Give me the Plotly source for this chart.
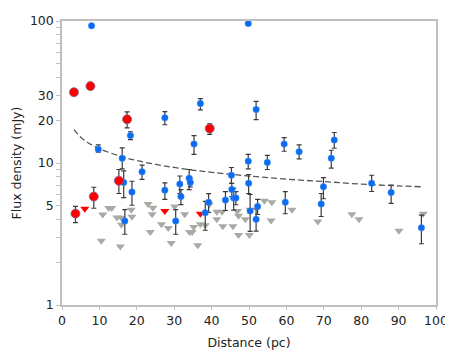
import plotly.graph_objects as go

# Blue detections: distance (pc), flux (mJy), error up / down
blue_d = [7.9, 49.8, 9.7, 18.3, 16.1, 21.4, 27.5, 37.0, 35.3, 51.9, 59.4, 63.4, 49.8, 54.9,
          45.3, 72.8, 72.0, 82.8, 88.0, 96.1, 69.9, 69.3, 16.5, 18.7, 16.8, 27.5, 31.5, 31.8,
          30.4, 34.0, 34.3, 45.4, 45.9, 46.5, 49.9, 50.3, 43.7, 39.2, 38.3, 52.3, 51.9, 59.7]
blue_f = [92.5, 96, 12.5, 15.6, 10.8, 8.66, 20.8, 26.2, 13.6, 23.8, 13.6, 12.0, 10.3, 10.1,
          8.2, 14.5, 10.8, 7.2, 6.2, 3.5, 6.8, 5.15, 7.3, 6.24, 3.9, 6.44, 7.1, 5.8,
          3.9, 7.8, 7.3, 6.5, 5.66, 5.68, 7.2, 4.6, 5.48, 5.29, 4.46, 4.94, 4.01, 5.29]
blue_up = [0, 0, 0.9, 1.0, 2.0, 1.0, 2.2, 2.2, 2.0, 3.4, 1.5, 1.4, 1.2, 1.2,
           1.1, 1.9, 1.5, 1.0, 0.8, 0.8, 1.1, 0.95, 1.5, 1.2, 0.8, 0.8, 1.0, 0.7,
           0.8, 1.2, 0.5, 0.7, 1.0, 0.6, 1.1, 1.4, 0.8, 0.8, 0.9, 0.6, 0.75, 1.0]
blue_dn = [0, 0, 0.6, 1.0, 1.7, 1.0, 2.2, 2.5, 2.1, 3.6, 1.5, 1.3, 1.2, 1.1,
           1.0, 1.8, 1.6, 0.9, 1.0, 0.8, 1.2, 0.95, 1.6, 1.2, 0.75, 0.9, 1.0, 0.7,
           0.75, 1.3, 0.5, 0.7, 1.0, 0.6, 1.1, 1.3, 0.85, 0.8, 1.1, 0.6, 0.7, 0.9]

# Red detections
red_d = [3.2, 7.6, 17.4, 39.5, 15.2, 8.5, 3.6]
red_f = [31.5, 34.8, 20.3, 17.5, 7.5, 5.8, 4.4]
red_up = [1.5, 1.0, 2.6, 1.4, 1.5, 0.95, 0.55]
red_dn = [1.5, 1.0, 2.6, 1.6, 1.4, 1.0, 0.6]

# Red upper limits
red_lim_d = [6.1, 27.5, 37.0]
red_lim_f = [4.76, 4.6, 4.4]

# Grey upper limits
grey_d = [10.9, 12.5, 13.3, 10.5, 14.7, 15.9, 15.9, 15.6, 18.7, 18.5, 23.0, 24.3, 24.1, 26.6,
          23.6, 28.4, 29.2, 30.1, 32.8, 34.1, 35.2, 34.8, 37.0, 38.3, 36.3, 39.4, 41.4, 42.8,
          41.4, 43.0, 45.7, 46.9, 47.2, 49.0, 47.2, 50.1, 50.3, 54.1, 56.1, 55.9, 61.5, 68.4,
          77.5, 79.4, 90.1, 96.6]
grey_f = [4.34, 4.83, 4.83, 2.83, 4.14, 4.12, 3.67, 2.58, 4.19, 4.69, 5.15, 4.84, 4.36, 3.71,
          3.26, 3.49, 2.73, 4.94, 4.36, 3.27, 3.54, 3.26, 3.71, 3.65, 2.64, 5.1, 4.53, 4.53,
          4.01, 3.58, 3.58, 4.6, 4.25, 4.01, 3.11, 3.11, 4.69, 5.42, 5.29, 3.93, 4.69, 3.87,
          4.36, 4.01, 3.34, 4.4]

# Dashed trend curve
curve_d = [3.2, 5, 7.5, 10, 15, 20, 30, 40, 50, 60, 70, 80, 90, 96.2]
curve_f = [17.2, 15.2, 13.6, 12.6, 11.3, 10.4, 9.3, 8.6, 8.1, 7.7, 7.4, 7.1, 6.9, 6.8]

err_style = dict(type='data', symmetric=False, color='#3a3a3a', thickness=1.2, width=2.5)

fig = go.Figure()

fig.add_trace(go.Scatter(
    x=curve_d, y=curve_f, mode='lines', line_shape='spline',
    line=dict(color='#555555', width=1.3, dash='6px,3px'), hoverinfo='skip'))

fig.add_trace(go.Scatter(
    x=grey_d, y=grey_f, mode='markers',
    marker=dict(symbol='triangle-down', size=8, color='#aaaaa4')))

fig.add_trace(go.Scatter(
    x=red_lim_d, y=red_lim_f, mode='markers',
    marker=dict(symbol='triangle-down', size=8, color='#ff0000')))

fig.add_trace(go.Scatter(
    x=blue_d, y=blue_f, mode='markers',
    error_y=dict(array=blue_up, arrayminus=blue_dn, **err_style),
    marker=dict(symbol='circle', size=6.5, color='#0a6cf0',
                line=dict(color='#4d8ff0', width=0.5))))

fig.add_trace(go.Scatter(
    x=red_d, y=red_f, mode='markers',
    error_y=dict(array=red_up, arrayminus=red_dn, **err_style),
    marker=dict(symbol='circle', size=9, color='#ff0000',
                line=dict(color='#8a5a8a', width=0.8))))

ytickvals = [1, 2, 3, 4, 5, 6, 7, 8, 9, 10, 20, 30, 40, 50, 60, 70, 80, 90, 100]
yticktext = ['1', '', '', '', '5', '', '', '', '', '10', '20', '30', '', '', '', '', '', '', '100']

font = 'DejaVu Sans, Verdana, sans-serif'

# page body has an 8px default margin, so the figure is sized to fit the window
fig.update_layout(
    width=445, height=352,
    margin=dict(l=54, r=17, t=5, b=55),
    paper_bgcolor='white', plot_bgcolor='white',
    showlegend=False,
    font=dict(family=font, size=12, color='#222222'),
    xaxis=dict(
        range=[0, 100], tickvals=list(range(0, 101, 10)),
        showgrid=False, zeroline=False,
        showline=True, linecolor='#bfbfbf', linewidth=1.5, mirror=True,
        ticks='outside', ticklen=3, tickcolor='#bfbfbf',
        tickfont=dict(size=12.5), ticklabeloverflow='allow',
        title=dict(text='Distance (pc)', font=dict(size=12.5), standoff=11)),
    yaxis=dict(
        type='log', range=[0, 2], tickvals=ytickvals, ticktext=yticktext,
        showgrid=False, zeroline=False,
        showline=True, linecolor='#bfbfbf', linewidth=1.5, mirror=True,
        ticks='outside', ticklen=4, tickcolor='#bfbfbf',
        tickfont=dict(size=12.5), ticklabeloverflow='allow',
        title=dict(text='Flux density (mJy)', font=dict(size=12.5), standoff=6)),
)

fig.write_html("out.html")
